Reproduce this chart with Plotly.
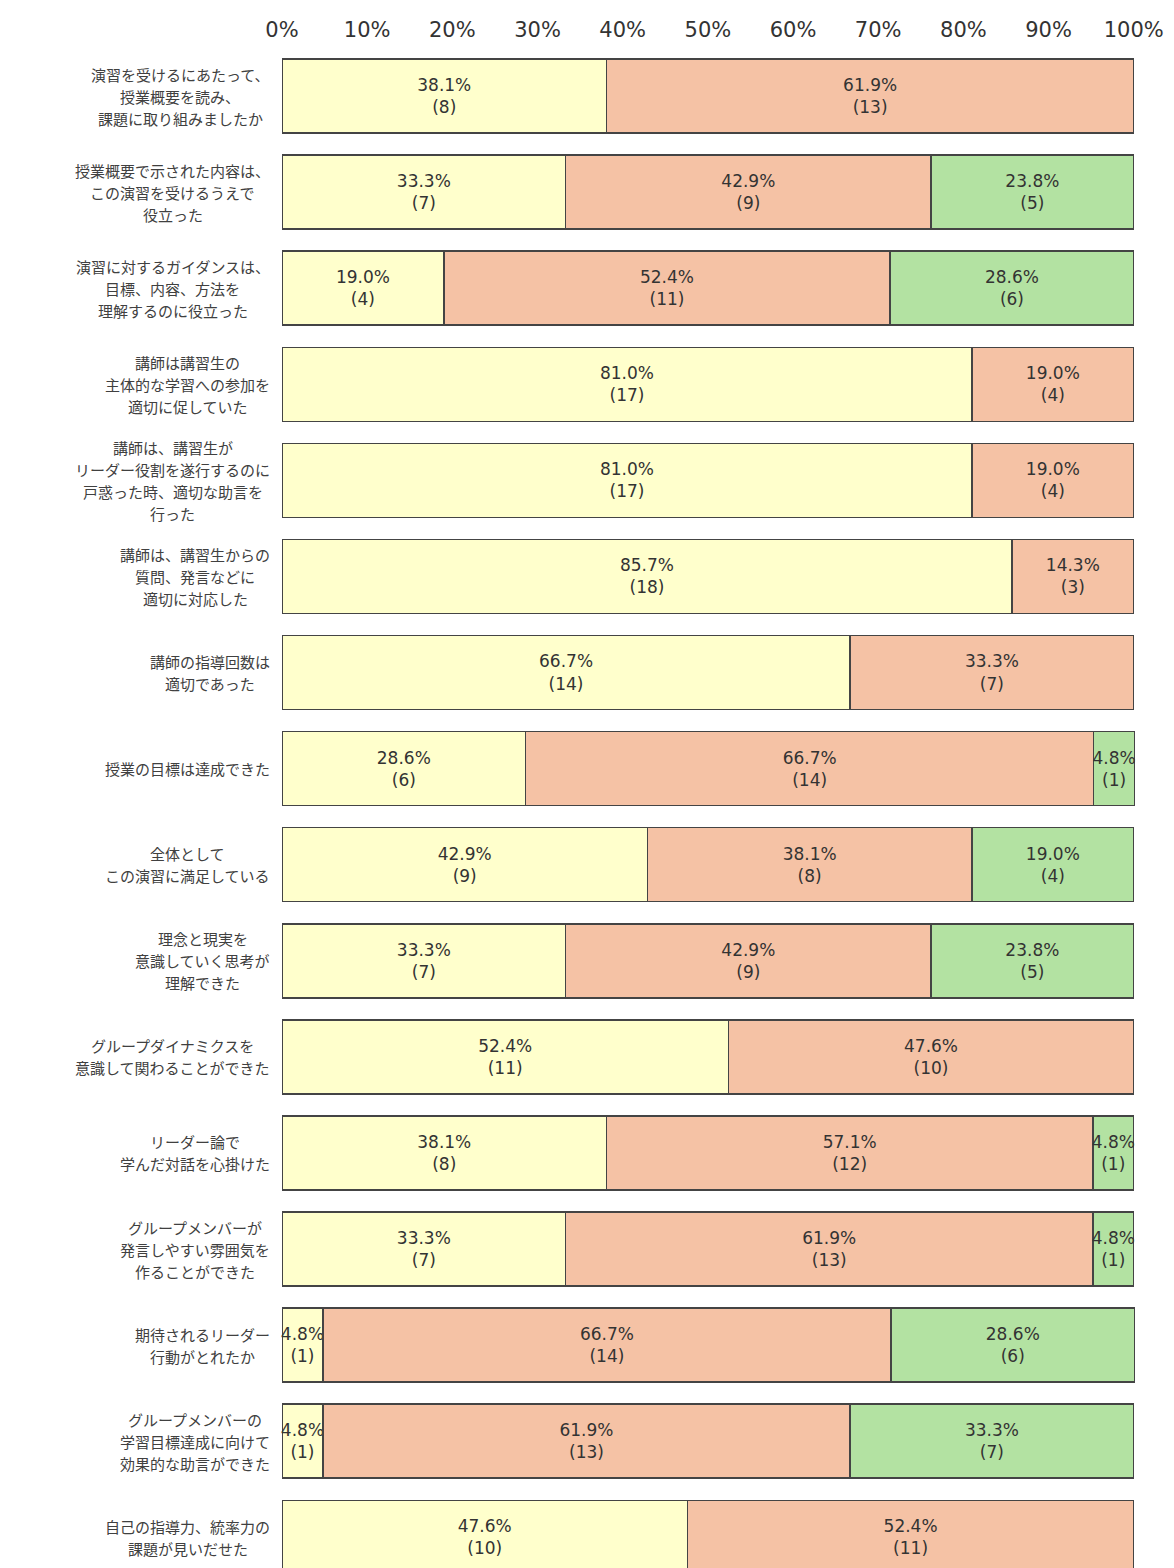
import plotly.graph_objects as go

categories = [
    "演習を受けるにあたって、<br>授業概要を読み、<br>課題に取り組みましたか",
    "授業概要で示された内容は、<br>この演習を受けるうえで<br>役立った",
    "演習に対するガイダンスは、<br>目標、内容、方法を<br>理解するのに役立った",
    "講師は講習生の<br>主体的な学習への参加を<br>適切に促していた",
    "講師は、講習生が<br>リーダー役割を遂行するのに<br>戸惑った時、適切な助言を<br>行った",
    "講師は、講習生からの<br>質問、発言などに<br>適切に対応した",
    "講師の指導回数は<br>適切であった",
    "授業の目標は達成できた",
    "全体として<br>この演習に満足している",
    "理念と現実を<br>意識していく思考が<br>理解できた",
    "グループダイナミクスを<br>意識して関わることができた",
    "リーダー論で<br>学んだ対話を心掛けた",
    "グループメンバーが<br>発言しやすい雰囲気を<br>作ることができた",
    "期待されるリーダー<br>行動がとれたか",
    "グループメンバーの<br>学習目標達成に向けて<br>効果的な助言ができた",
    "自己の指導力、統率力の<br>課題が見いだせた",
]

pct_a = [38.1, 33.3, 19.0, 81.0, 81.0, 85.7, 66.7, 28.6, 42.9, 33.3, 52.4, 38.1, 33.3, 4.8, 4.8, 47.6]
cnt_a = [8, 7, 4, 17, 17, 18, 14, 6, 9, 7, 11, 8, 7, 1, 1, 10]
pct_b = [61.9, 42.9, 52.4, 19.0, 19.0, 14.3, 33.3, 66.7, 38.1, 42.9, 47.6, 57.1, 61.9, 66.7, 61.9, 52.4]
cnt_b = [13, 9, 11, 4, 4, 3, 7, 14, 8, 9, 10, 12, 13, 14, 13, 11]
pct_c = [0, 23.8, 28.6, 0, 0, 0, 0, 4.8, 19.0, 23.8, 0, 4.8, 4.8, 28.6, 33.3, 0]
cnt_c = [0, 5, 6, 0, 0, 0, 0, 1, 4, 5, 0, 1, 1, 6, 7, 0]

tick_vals = [0, 10, 20, 30, 40, 50, 60, 70, 80, 90, 100]
tick_text = ["0%", "10%", "20%", "30%", "40%", "50%", "60%", "70%", "80%", "90%", "100%"]

series = [
    ("A", pct_a, cnt_a, "#FFFFCC"),
    ("B", pct_b, cnt_b, "#F5C2A5"),
    ("C", pct_c, cnt_c, "#B3E2A2"),
]

ids = list(range(len(categories)))

fig = go.Figure()
for name, pcts, cnts, color in series:
    xs = [p if p > 0 else None for p in pcts]
    texts = [f"{p:.1f}%<br>({n})" if p > 0 else "" for p, n in zip(pcts, cnts)]
    fig.add_trace(go.Bar(
        name=name,
        y=ids,
        x=xs,
        orientation="h",
        marker=dict(color=color, line=dict(color="#444444", width=1.5)),
        text=texts,
        textposition="inside",
        insidetextanchor="middle",
        textangle=0,
        textfont=dict(family="DejaVu Sans", size=17, color="#333333"),
        cliponaxis=False,
        width=0.77,
        hoverinfo="skip",
    ))

# category labels: one annotation per line, centred block right-aligned to the axis
LINE_GAP = 22
for i, lab in enumerate(categories):
    lines = lab.split("<br>")
    n = len(lines)
    # estimate block width so lines are centred within a right-aligned block
    widths = [len(s) for s in lines]
    maxw = max(widths)
    for k, line in enumerate(lines):
        fig.add_annotation(
            x=0, xref="paper", y=i, yref="y",
            text=line, showarrow=False,
            xanchor="center", yanchor="middle",
            xshift=-12 - maxw * 15 / 2,
            yshift=((n - 1) / 2 - k) * LINE_GAP,
            font=dict(family="Noto Sans CJK JP", size=15, color="#404040"),
        )

fig.update_layout(
    barmode="stack",
    width=1174, height=1568,
    margin=dict(l=274, r=47, t=40, b=8),
    paper_bgcolor="white", plot_bgcolor="white",
    showlegend=False,
    uniformtext=dict(mode="show", minsize=17),
    xaxis=dict(
        side="top", range=[0, 100.15], tickvals=tick_vals, ticktext=tick_text,
        showgrid=False, zeroline=False, showline=False, ticks="",
        ticklabelstandoff=6,
        tickfont=dict(family="DejaVu Sans", size=21, color="#333333"),
    ),
    yaxis=dict(
        range=[15.32, -0.5], showticklabels=False, showgrid=False,
        zeroline=False, showline=False, ticks="",
    ),
)

fig.write_html("out.html")
